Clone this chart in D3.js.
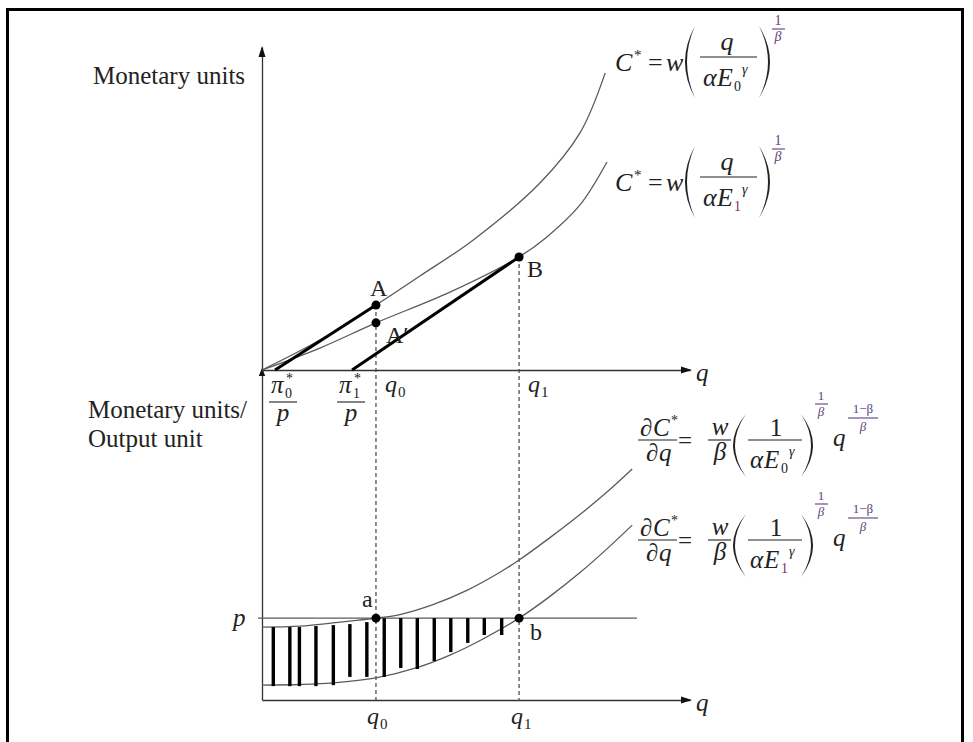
<!DOCTYPE html>
<html><head><meta charset="utf-8">
<script src="https://cdn.jsdelivr.net/npm/d3@7"></script>
<style>
html,body{margin:0;padding:0;background:#fff;}
svg{display:block;}
</style></head><body>
<svg id="chart" width="973" height="742"></svg>
<script>
// Output levels and price
const q0 = 2.62, q1 = 5.91;
const price = 2.48;
// Total cost curves C*(q) for E0 (upper) and E1 (lower)
const costQ0 = [0, 1.33, 2.62, 3.63, 4.85, 6.39, 7.31, 7.89];
const costV0 = [0, 0.93, 2.01, 2.91, 4.02, 5.79, 7.34, 9.20];
const costQ1 = [0, 1.33, 2.62, 4.32, 5.91, 6.55, 7.31, 7.93];
const costV1 = [0, 0.68, 1.46, 2.41, 3.50, 4.12, 5.11, 6.44];
// Marginal cost curves dC*/dq for E0 and E1
const mcQ0 = [0, 0.87, 1.79, 2.62, 3.17, 3.93, 4.71, 5.47, 5.91, 6.62, 7.31, 7.93, 8.51];
const mcV0 = [2.21, 2.24, 2.36, 2.48, 2.59, 2.89, 3.32, 3.87, 4.24, 4.92, 5.62, 6.30, 7.00];
const mcQ1 = [0, 0.87, 1.64, 2.62, 3.56, 4.32, 5.08, 5.91, 6.62, 7.31, 7.93, 8.51];
const mcV1 = [0.45, 0.47, 0.52, 0.67, 0.98, 1.36, 1.85, 2.48, 3.14, 3.86, 4.58, 5.30];
// Intercepts of the iso-profit lines, pi*/p
const profitQ = [0.30, 2.07];
// Points on the curves
const upperPts = [["A", q0, 2.01], ["A\u2032", q0, 1.46], ["B", q1, 3.50]];
const lowerPts = [["a", q0, price], ["b", q1, price]];
// Hatching between the marginal cost curves
const hatchQ = [0.26, 0.64, 0.86, 1.24, 1.64, 2.02, 2.41, 2.81, 3.19, 3.57, 3.96, 4.34, 4.73, 5.11, 5.51];
const hatchTop = [2.21, 2.21, 2.21, 2.24, 2.27, 2.30, 2.36, 2.48, 2.48, 2.48, 2.48, 2.48, 2.48, 2.48, 2.48];
const hatchBottom = [0.42, 0.42, 0.42, 0.42, 0.45, 0.70, 0.70, 0.70, 0.97, 0.94, 1.18, 1.45, 1.73, 1.97, 1.97];

const SERIF = "'Liberation Serif','Times New Roman',serif";
const INK = "#222", CURVE = "#5a5a5a", PURPLE = "#5b3f7c";

const svg = d3.select("#chart");
svg.append("rect").attr("width", 973).attr("height", 742).attr("fill", "#fff");
// frame
svg.append("rect").attr("x", 7.5).attr("y", 9.5).attr("width", 955).attr("height", 760)
  .attr("fill", "none").attr("stroke", "#000").attr("stroke-width", 3);

const x = d3.scaleLinear().domain([0, 10]).range([262, 697]);
const yU = d3.scaleLinear().domain([0, 10]).range([370, 47]);
const yL = d3.scaleLinear().domain([0, 10]).range([700, 370]);
const qEnd = x.invert(690);

// axes (no ticks, domain lines only)
const xAxisScale = x.copy().domain([0, qEnd]).range([x(0), x(qEnd)]);
function axisStyle(g) {
  g.select(".domain").attr("stroke", "#333").attr("stroke-width", 1.3);
  g.selectAll(".tick").remove();
}
svg.append("g").attr("transform", `translate(0,${yU(0)})`)
  .call(d3.axisBottom(xAxisScale).tickValues([]).tickSizeOuter(0)).call(axisStyle);
svg.append("g").attr("transform", `translate(0,${yL(0)})`)
  .call(d3.axisBottom(xAxisScale).tickValues([]).tickSizeOuter(0)).call(axisStyle);
svg.append("g").attr("transform", `translate(${x(0)},0)`)
  .call(d3.axisLeft(yU).tickValues([]).tickSizeOuter(0)).call(axisStyle);
svg.append("g").attr("transform", `translate(${x(0)},0)`)
  .call(d3.axisLeft(yL).tickValues([]).tickSizeOuter(0)).call(axisStyle);

// arrowheads
function arrow(px, py, dir, len, half) {
  let pts;
  if (dir === "up") pts = [[px, py], [px - half, py + len], [px + half, py + len]];
  else pts = [[px, py], [px - len, py - half], [px - len, py + half]];
  svg.append("path").attr("d", "M" + pts.map(p => p.join(",")).join("L") + "Z").attr("fill", "#111");
}
arrow(x(0), yU(10) - 1, "up", 11, 3.5);
arrow(x(0), yL(10) - 2, "up", 8, 3.2);
arrow(x(qEnd) + 2, yU(0), "right", 11, 3.5);
arrow(x(qEnd) + 2, yL(0), "right", 11, 3.5);

// dashed guides at q0 and q1
svg.append("line").attr("x1", x(q0)).attr("x2", x(q0)).attr("y1", yU(2.01)).attr("y2", yL(0))
  .attr("stroke", "#444").attr("stroke-width", 1.2).attr("stroke-dasharray", "4,3");
svg.append("line").attr("x1", x(q1)).attr("x2", x(q1)).attr("y1", yU(3.50)).attr("y2", yL(0))
  .attr("stroke", "#444").attr("stroke-width", 1.2).attr("stroke-dasharray", "4,3");

// curves
function curve(qs, vs, ys) {
  const line = d3.line().x(d => x(d[0])).y(d => ys(d[1])).curve(d3.curveCatmullRom.alpha(0.5));
  svg.append("path").attr("d", line(qs.map((q, i) => [q, vs[i]])))
    .attr("fill", "none").attr("stroke", CURVE).attr("stroke-width", 1.3);
}
curve(costQ0, costV0, yU);
curve(costQ1, costV1, yU);
curve(mcQ0, mcV0, yL);
curve(mcQ1, mcV1, yL);

// price line
svg.append("line").attr("x1", x(-0.09)).attr("x2", x(8.62)).attr("y1", yL(price)).attr("y2", yL(price))
  .attr("stroke", CURVE).attr("stroke-width", 1.3);

// iso-profit lines
svg.append("line").attr("x1", x(profitQ[0])).attr("y1", yU(0)).attr("x2", x(q0)).attr("y2", yU(2.01))
  .attr("stroke", "#000").attr("stroke-width", 3);
svg.append("line").attr("x1", x(profitQ[1])).attr("y1", yU(0)).attr("x2", x(q1)).attr("y2", yU(3.50))
  .attr("stroke", "#000").attr("stroke-width", 3);

// hatching
svg.append("g").selectAll("line").data(hatchQ).join("line")
  .attr("x1", d => x(d)).attr("x2", d => x(d))
  .attr("y1", (d, i) => yL(hatchTop[i])).attr("y2", (d, i) => yL(hatchBottom[i]))
  .attr("stroke", "#000").attr("stroke-width", 3.4);

// points
svg.append("g").selectAll("circle").data(upperPts).join("circle")
  .attr("cx", d => x(d[1])).attr("cy", d => yU(d[2])).attr("r", 4.5).attr("fill", "#000");
svg.append("g").selectAll("circle").data(lowerPts).join("circle")
  .attr("cx", d => x(d[1])).attr("cy", d => yL(d[2])).attr("r", 4.5).attr("fill", "#000");

// text helpers
function t(g, px, py, s, o = {}) {
  return g.append("text").attr("x", px).attr("y", py).text(s)
    .attr("font-family", SERIF).attr("font-size", o.size || 25)
    .attr("font-style", o.it ? "italic" : "normal")
    .attr("text-anchor", o.anchor || "start")
    .attr("fill", o.fill || INK);
}
function hbar(g, xa, xb, py, fill) {
  g.append("line").attr("x1", xa).attr("x2", xb).attr("y1", py).attr("y2", py)
    .attr("stroke", fill || INK).attr("stroke-width", 1.1);
}
// crescent-shaped bracket
function paren(g, xOut, xIn, yT, yB, left) {
  const ym = (yT + yB) / 2, th = 2.0;
  const s = left ? 1 : -1;
  const c1 = 2 * xOut - xIn;
  const c2 = 2 * (xOut + s * th) - xIn;
  g.append("path")
    .attr("d", `M${xIn},${yT}Q${c1},${ym} ${xIn},${yB}Q${c2},${ym} ${xIn},${yT}Z`)
    .attr("fill", INK);
}
function aEsub(g, px, base, sub, size) {
  t(g, px, base, "\u03b1", {it: true, size});
  t(g, px + 14, base, "E", {it: true, size});
  t(g, px + 31, base + 5, sub, {size: 14, fill: sub === "1" ? "#7a2f6e" : INK});
  t(g, px + 39, base - 12, "\u03b3", {it: true, size: 14});
}

// axis labels
t(svg, 93, 84, "Monetary units");
t(svg, 88, 418, "Monetary units/");
t(svg, 88, 447, "Output unit");
t(svg, 696, 381, "q", {it: true});
t(svg, 696, 711, "q", {it: true});

// q0, q1 labels
function qLabel(px, base, sub) {
  t(svg, px, base, "q", {it: true, size: 24});
  t(svg, px + 13, base + 5, sub, {size: 15});
}
qLabel(x(q0) + 9, 392, "0");
qLabel(x(q1) + 9, 392, "1");
qLabel(x(q0) - 9, 724, "0");
qLabel(x(q1) - 8, 724, "1");

// pi*/p labels
function piLabel(cx, sub) {
  t(svg, cx - 12, 393, "\u03c0", {it: true, size: 25});
  t(svg, cx + 2, 398, sub, {size: 14});
  t(svg, cx + 3, 383, "*", {size: 14});
  hbar(svg, cx - 14, cx + 14, 402);
  t(svg, cx, 421, "p", {it: true, anchor: "middle", size: 25});
}
piLabel(x(profitQ[0]) + 8, "0");
piLabel(x(profitQ[1]) - 1, "1");

// point labels
t(svg, 370, 296, "A", {size: 24});
t(svg, 386, 343, "A\u2032", {size: 24});
t(svg, 527, 277, "B", {size: 24});
t(svg, 362, 607, "a", {size: 24});
t(svg, 530, 640, "b", {size: 24});
t(svg, 233, 626, "p", {it: true, size: 25});

// C* = w (q / alpha E^gamma)^(1/beta)
function costFormula(x0, Y, sub) {
  const g = svg.append("g");
  t(g, x0, Y + 14, "C", {it: true, size: 26});
  t(g, x0 + 19, Y + 3, "*", {size: 15});
  t(g, x0 + 33, Y + 14, "=", {size: 26});
  t(g, x0 + 51, Y + 14, "w", {it: true, size: 26});
  paren(g, x0 + 70, x0 + 80, Y - 31, Y + 41, true);
  t(g, x0 + 112, Y - 7, "q", {it: true, size: 26, anchor: "middle"});
  hbar(g, x0 + 85, x0 + 142, Y);
  aEsub(g, x0 + 88, Y + 29, sub, 26);
  paren(g, x0 + 155, x0 + 144, Y - 31, Y + 41, false);
  t(g, x0 + 163, Y - 32, "1", {size: 14, anchor: "middle", fill: PURPLE});
  hbar(g, x0 + 157, x0 + 170, Y - 28, PURPLE);
  t(g, x0 + 163, Y - 16, "\u03b2", {it: true, size: 14, anchor: "middle", fill: PURPLE});
}
costFormula(615, 57, "0");
costFormula(615, 177, "1");

// dC*/dq = w/beta (1 / alpha E^gamma)^(1/beta) q^((1-beta)/beta)
function derivFormula(x0, Y, sub) {
  const g = svg.append("g");
  t(g, x0, Y - 4, "\u2202", {size: 25});
  t(g, x0 + 13, Y - 4, "C", {it: true, size: 25});
  t(g, x0 + 31, Y - 15, "*", {size: 14});
  hbar(g, x0 - 2, x0 + 37, Y);
  t(g, x0 + 6, Y + 21, "\u2202", {size: 25});
  t(g, x0 + 19, Y + 21, "q", {it: true, size: 25});
  t(g, x0 + 38, Y + 9, "=", {size: 25});
  t(g, x0 + 80, Y - 5, "w", {it: true, size: 25, anchor: "middle"});
  hbar(g, x0 + 68, x0 + 91, Y);
  t(g, x0 + 80, Y + 20, "\u03b2", {it: true, size: 25, anchor: "middle"});
  paren(g, x0 + 93, x0 + 106, Y - 26, Y + 37, true);
  t(g, x0 + 136, Y - 4, "1", {size: 25, anchor: "middle"});
  hbar(g, x0 + 108, x0 + 162, Y);
  aEsub(g, x0 + 110, Y + 28, sub, 25);
  paren(g, x0 + 173, x0 + 161, Y - 26, Y + 37, false);
  t(g, x0 + 181, Y - 40, "1", {size: 13, anchor: "middle", fill: PURPLE});
  hbar(g, x0 + 175, x0 + 188, Y - 36, PURPLE);
  t(g, x0 + 181, Y - 24, "\u03b2", {it: true, size: 13, anchor: "middle", fill: PURPLE});
  t(g, x0 + 193, Y + 6, "q", {it: true, size: 25});
  t(g, x0 + 223, Y - 27, "1\u2212\u03b2", {size: 13, anchor: "middle", fill: PURPLE});
  hbar(g, x0 + 208, x0 + 238, Y - 22, PURPLE);
  t(g, x0 + 223, Y - 9, "\u03b2", {it: true, size: 13, anchor: "middle", fill: PURPLE});
}
derivFormula(640, 440, "0");
derivFormula(640, 540, "1");
</script>
</body></html>
